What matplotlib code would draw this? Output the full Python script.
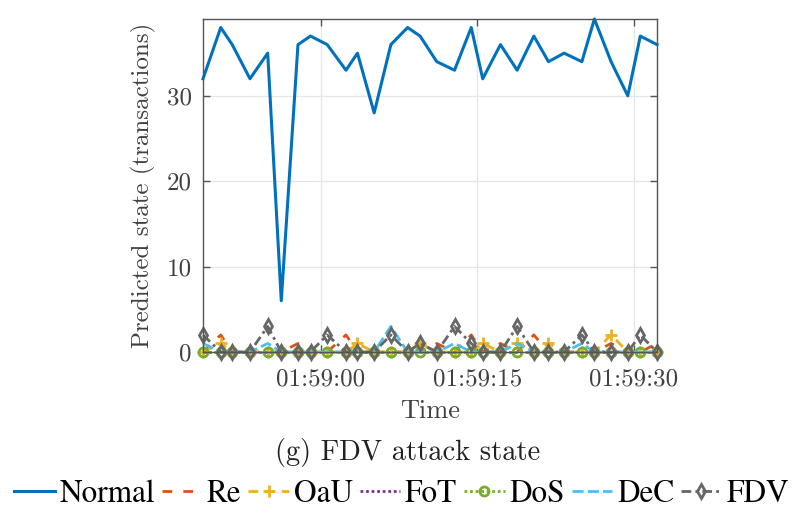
import matplotlib
matplotlib.use("Agg")
import matplotlib.pyplot as plt
import matplotlib.dates as mdates
from matplotlib import font_manager as fm
import pandas as pd

# Sample timestamps (irregular sampling) and predicted counts per class
times = ["01:58:48.7", "01:58:50.4", "01:58:51.5", "01:58:53.2", "01:58:54.9",
         "01:58:56.2", "01:58:57.8", "01:58:59.0", "01:59:00.6", "01:59:02.4",
         "01:59:03.5", "01:59:05.1", "01:59:06.7", "01:59:08.3", "01:59:09.5",
         "01:59:11.1", "01:59:12.8", "01:59:14.4", "01:59:15.5", "01:59:17.2",
         "01:59:18.8", "01:59:20.4", "01:59:21.8", "01:59:23.3", "01:59:25.0",
         "01:59:26.2", "01:59:27.8", "01:59:29.4", "01:59:30.6", "01:59:32.2"]

normal = [32, 38, 36, 32, 35, 6, 36, 37, 36, 33, 35, 28, 36, 38, 37,
          34, 33, 38, 32, 36, 33, 37, 34, 35, 34, 39, 34, 30, 37, 36]
re_ = [0, 2, 0, 0, 0, 0, 1, 0, 0, 2, 0, 0, 0, 0, 0,
       1, 0, 2, 0, 1, 0, 2, 0, 0, 0, 0, 1, 0, 0, 1]
oau = [0, 1, 0, 0, 0, 0, 0, 0, 0, 0, 1, 0, 0, 0, 1,
       0, 0, 0, 1, 0, 1, 0, 1, 0, 0, 0, 2, 0, 0, 0]
fot = [0] * 30
dos = [0] * 30
dec = [1, 0, 0, 0, 1, 0, 0, 0, 0, 0, 0, 0, 3, 0, 0,
       0, 1, 0, 0, 0, 1, 0, 0, 0, 1, 0, 0, 0, 0, 0]
fdv = [2, 0, 0, 0, 3, 0, 0, 0, 2, 0, 0, 0, 2, 0, 1,
       0, 3, 1, 0, 0, 3, 0, 0, 0, 2, 0, 0, 0, 2, 0]

labels = ["Normal", "Re", "OaU", "FoT", "DoS", "DeC", "FDV"]
yticks = [0, 10, 20, 30]

t = pd.to_datetime(["2023-01-01 " + s for s in times])

fig = plt.figure(figsize=(8.03, 5.16), dpi=100)
ax = fig.add_axes([0.2528, 0.3178, 0.5654, 0.6454])

cm_font = "cmr10"
tick_color = "#404040"

styles = [
    dict(color="#0072BD", ls="-", lw=2.2),
    dict(color="#D95319", ls=(0, (3.5, 4)), lw=2),
    dict(color="#EDB120", ls=(0, (3.5, 2.5)), lw=2, marker="+", ms=8, mew=2),
    dict(color="#7E2F8E", ls=(0, (1, 1)), lw=2),
    dict(color="#77AC30", ls=(0, (1, 1)), lw=2, marker="o", ms=6.5, mew=2, mfc="none"),
    dict(color="#4DBEEE", ls=(0, (4, 1.5)), lw=2),
    dict(color="#666666", ls=(0, (3.5, 1.5, 1, 1.5)), lw=2, marker="d", ms=7.5, mew=2, mfc="none"),
]
series = [normal, re_, oau, fot, dos, dec, fdv]

handles = []
for y, lab, st in zip(series, labels, styles):
    h, = ax.plot(t, y, label=lab, clip_on=False, **st)
    handles.append(h)

ax.set_xlim(t[0], t[-1])
ax.set_ylim(0, 39)
ax.set_yticks(yticks)
ax.xaxis.set_major_locator(mdates.SecondLocator(bysecond=[0, 15, 30, 45]))
ax.xaxis.set_major_formatter(mdates.DateFormatter("%H:%M:%S"))

ax.grid(True, color="#e6e6e6", lw=0.9)
ax.set_axisbelow(True)
for sp in ax.spines.values():
    sp.set_color("#555555")
    sp.set_linewidth(1.0)
ax.tick_params(direction="in", length=5, width=1, color="#555555",
               top=True, right=True, labelcolor=tick_color, labelsize=18)
ax.tick_params(axis="x", pad=12)
ax.tick_params(axis="y", pad=8)
for lbl in ax.get_xticklabels() + ax.get_yticklabels():
    lbl.set_fontfamily(cm_font)

ax.set_ylabel("Predicted state (transactions)", fontsize=18, family=cm_font,
              color=tick_color, labelpad=8)
ax.set_xlabel("Time", fontsize=19, family=cm_font, color=tick_color, labelpad=6)

fig.text(0.508, 0.124, "(g) FDV attack state", fontsize=20.5, family=cm_font,
         ha="center", va="center", color="#222222")

# Times-style face for the legend entries
serif_file = None
for f in fm.fontManager.ttflist:
    if f.name == "TeX Gyre Termes" and f.fname.endswith("texgyretermes-regular.otf"):
        serif_file = f.fname
        break
if serif_file is None:
    for f in fm.fontManager.ttflist:
        if f.fname.endswith("LiberationSerif-Regular.ttf"):
            serif_file = f.fname
            break
legend_font = (fm.FontProperties(fname=serif_file, size=22.5) if serif_file
               else fm.FontProperties(family="DejaVu Serif", size=20))
leg = fig.legend(handles=handles, labels=labels, loc="center", ncol=7,
                 bbox_to_anchor=(0.5, 0.043), frameon=False, prop=legend_font,
                 handlelength=1.3, handletextpad=0.15, columnspacing=0.22,
                 borderpad=0.1)

fig.savefig("out.png", dpi=100)
